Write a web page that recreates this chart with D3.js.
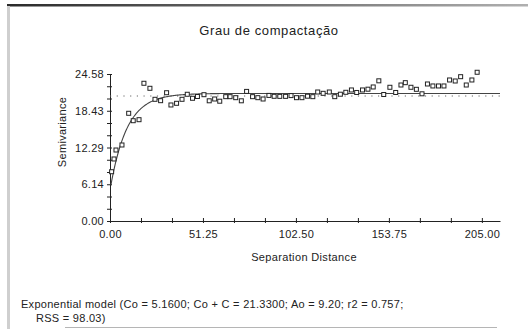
<!DOCTYPE html>
<html>
<head>
<meta charset="utf-8">
<script src="https://cdn.jsdelivr.net/npm/d3@7"></script>
<style>
  body { margin: 0; background: #fff; }
  svg { display: block; font-family: "Liberation Sans", Arial, sans-serif; }
</style>
</head>
<body>
<div id="chart"></div>
<script>
// Experimental semivariogram points (lag distance, semivariance)
const lagDistance = [0.9, 2.2, 3.3, 6.6, 10.3, 12.8, 16.0, 18.7, 22.0, 24.8,
  27.9, 31.2, 33.6, 36.7, 39.7, 42.6, 45.5, 48.2, 51.8, 54.7,
  57.7, 60.5, 63.8, 66.2, 69.3, 72.4, 75.3, 78.6, 81.5, 84.4,
  87.6, 90.5, 93.6, 96.8, 99.8, 102.8, 105.8, 108.9, 111.8, 114.5,
  117.5, 120.9, 123.9, 127.0, 130.0, 133.1, 136.0, 139.2, 142.2, 145.1,
  148.2, 150.9, 154.3, 157.5, 160.4, 162.8, 165.9, 168.9, 172.0, 175.0,
  178.0, 181.1, 184.1, 187.2, 190.3, 193.3, 196.4, 199.5, 202.4];
const semivariance = [8.24, 10.37, 11.87, 12.71, 18.01, 16.77, 16.94, 23.03, 22.19, 20.35,
  20.12, 21.45, 19.40, 19.68, 20.35, 21.19, 20.52, 20.82, 21.12, 20.10,
  20.40, 20.03, 20.79, 20.79, 20.62, 20.10, 21.67, 20.79, 20.62, 20.40,
  21.00, 20.85, 20.84, 20.84, 20.97, 20.62, 20.62, 20.87, 20.79, 21.57,
  21.35, 21.57, 20.79, 21.20, 21.52, 21.91, 21.49, 21.91, 22.04, 22.41,
  23.44, 21.15, 22.36, 21.49, 22.74, 23.13, 22.36, 22.02, 21.27, 22.91,
  22.58, 22.58, 22.58, 23.58, 23.41, 24.13, 22.74, 23.58, 24.87];

// Fitted exponential model
const nugget = 5.16;
const sill = 21.33;
const rangeParam = 9.20;
const sampleVariance = 20.9;

const xTickLabels = ["0.00", "51.25", "102.50", "153.75", "205.00"];
const yTickLabels = ["0.00", "6.14", "12.29", "18.43", "24.58"];

const W = 528, H = 329;
const svg = d3.select("#chart").append("svg")
  .attr("width", W).attr("height", H);

// frame decorations
const grad = svg.append("defs").append("linearGradient")
  .attr("id", "topbar").attr("x1", "0").attr("x2", "1");
grad.append("stop").attr("offset", "0").attr("stop-color", "#2a2a2a");
grad.append("stop").attr("offset", "1").attr("stop-color", "#b0b0b0");
svg.append("rect").attr("x", 7).attr("y", 4).attr("width", W - 7).attr("height", 2.5)
  .attr("fill", "url(#topbar)");
svg.append("rect").attr("x", 7).attr("y", 6).attr("width", 3).attr("height", H - 6)
  .attr("fill", "#cfcfcf");
svg.append("line").attr("x1", 65).attr("x2", 497).attr("y1", 327.5).attr("y2", 327.5)
  .attr("stroke", "#b5b5b5");

const x = d3.scaleLinear().domain([0, 215]).range([110, 500]);
const y = d3.scaleLinear().domain([0, 24.58]).range([221, 74]);

const xTicks = d3.range(13).map(i => i * 205 / 12);
const yTicks = d3.range(13).map(i => i * 24.58 / 12);

// x axis
const gx = svg.append("g").attr("transform", `translate(0,${y(0)})`)
  .call(d3.axisBottom(x).tickValues(xTicks).tickSizeOuter(0)
    .tickFormat((d, i) => i % 3 === 0 ? xTickLabels[i / 3] : ""));
gx.select(".domain").attr("stroke", "#222");
gx.selectAll(".tick line").attr("y1", -3).attr("y2", 2).attr("stroke", "#222");
gx.selectAll(".tick text").attr("y", 9).attr("font-size", 11).attr("letter-spacing", 0.3)
  .attr("font-family", "Liberation Sans, Arial, sans-serif").attr("fill", "#222");

// y axis
const gy = svg.append("g").attr("transform", `translate(${x(0)},0)`)
  .call(d3.axisLeft(y).tickValues(yTicks).tickSizeOuter(0)
    .tickFormat((d, i) => i % 3 === 0 ? yTickLabels[i / 3] : ""));
gy.select(".domain").attr("stroke", "#222");
gy.selectAll(".tick line").attr("x1", -3).attr("x2", 2).attr("stroke", "#222");
gy.selectAll(".tick text").attr("x", -6).attr("font-size", 11).attr("letter-spacing", 0.3)
  .attr("font-family", "Liberation Sans, Arial, sans-serif").attr("fill", "#222");

// sample variance (dotted)
svg.append("line")
  .attr("x1", x(0)).attr("x2", x(215))
  .attr("y1", y(sampleVariance)).attr("y2", y(sampleVariance))
  .attr("stroke", "#666").attr("stroke-dasharray", "1.2 5.5");

// model curve
const hs = d3.range(0.5, 215.01, 0.5);
const model = h => nugget + (sill - nugget) * (1 - Math.exp(-h / rangeParam));
svg.append("path")
  .datum(hs)
  .attr("fill", "none").attr("stroke", "#444").attr("stroke-width", 1.1)
  .attr("d", d3.line().x(h => x(h)).y(h => y(model(h))));

// points
svg.append("g").selectAll("rect")
  .data(lagDistance.map((h, i) => [h, semivariance[i]]))
  .join("rect")
  .attr("x", d => x(d[0]) - 2).attr("y", d => y(d[1]) - 2)
  .attr("width", 4).attr("height", 4)
  .attr("fill", "#fff").attr("stroke", "#222").attr("stroke-width", 1);

// titles
svg.append("text").attr("x", 269).attr("y", 35).attr("text-anchor", "middle")
  .attr("font-size", 13).attr("letter-spacing", 0.6).attr("fill", "#222")
  .text("Grau de compactação");
svg.append("text").attr("x", 304).attr("y", 261).attr("text-anchor", "middle")
  .attr("font-size", 11).attr("letter-spacing", 0.35).attr("fill", "#222")
  .text("Separation Distance");
svg.append("text").attr("transform", "translate(66,132) rotate(-90)")
  .attr("text-anchor", "middle").attr("font-size", 11).attr("letter-spacing", 0.3)
  .attr("fill", "#222").text("Semivariance");

const footer = svg.append("text").attr("font-size", 11).attr("letter-spacing", 0.28)
  .attr("fill", "#222");
footer.append("tspan").attr("x", 21).attr("y", 308)
  .text("Exponential model (Co = 5.1600; Co + C = 21.3300; Ao = 9.20; r2 = 0.757;");
footer.append("tspan").attr("x", 36).attr("y", 322).text("RSS = 98.03)");
</script>
</body>
</html>
